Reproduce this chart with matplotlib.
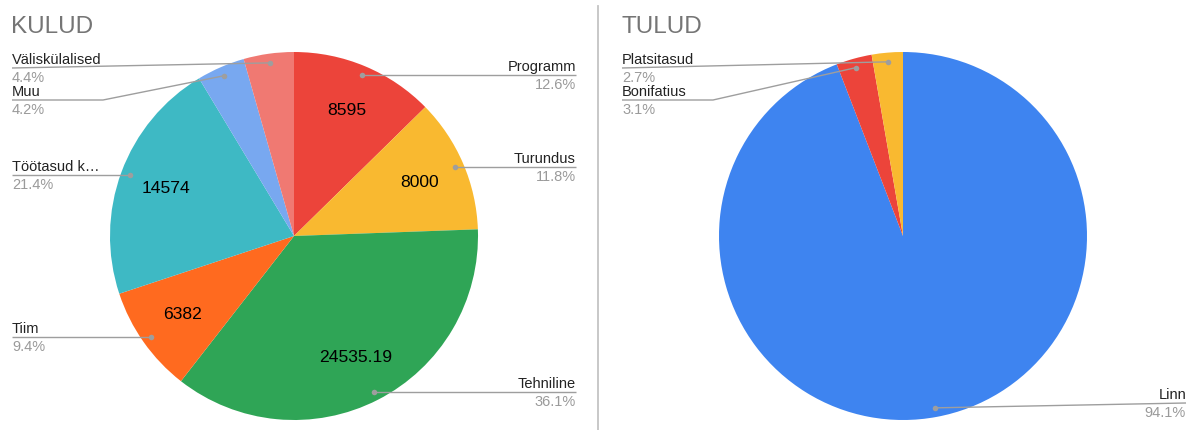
import numpy as np
import matplotlib.pyplot as plt

plt.rcParams['font.family'] = ['Liberation Sans', 'DejaVu Sans']

# Data
kulud_labels = ["Programm", "Turundus", "Tehniline", "Tiim", "Töötasud k…", "Muu", "Väliskülalised"]
kulud_values = [8595, 8000, 24535.19, 6382, 14574, 2865, 3000]
kulud_colors = ["#EC443A", "#F9B930", "#2FA556", "#FF6A1F", "#3EB9C4", "#78A8F0", "#F07972"]

tulud_labels = ["Linn", "Bonifatius", "Platsitasud"]
tulud_values = [94.14, 3.13, 2.73]
tulud_colors = ["#3E84F0", "#EC443A", "#F9B930"]

# Layout (pixels from top-left)
W, H = 1192, 430
R = 184
kulud_center = (294, 236)
tulud_center = (903, 236)

kulud_side = ["R", "R", "R", "L", "L", "L", "L"]
kulud_label_y = [None, None, None, None, None, 100, 68]
kulud_bend_x = [None, None, None, None, None, 103, None]

tulud_side = ["R", "L", "L"]
tulud_label_y = [403, 100, 68]
tulud_bend_x = [None, 713, None]

NAME_C = "#222222"
PCT_C = "#9a9a9a"
LINE_C = "#9e9e9e"


def fmt_val(v):
    s = f"{v:.2f}".rstrip("0").rstrip(".")
    return s


def draw_pie(ax, values, labels, colors, center, side, label_y, bend_x,
             left_x, right_x, show_values):
    cx, cy = center[0], H - center[1]
    ax.pie(values, colors=colors, startangle=90, counterclock=False,
           center=(cx, cy), radius=R, wedgeprops=dict(linewidth=0))
    total = float(sum(values))
    cum = np.cumsum(values) - np.array(values) / 2.0
    for i, v in enumerate(values):
        pct = 100.0 * v / total
        theta = np.deg2rad(90 - 360.0 * cum[i] / total)
        # value label inside slice
        if show_values and pct > 5:
            r = 0.74 * R
            ax.text(cx + r * np.cos(theta), cy + r * np.sin(theta), fmt_val(v),
                    ha="center", va="center", fontsize=12.6, color="black")
        # leader dot
        dx = cx + 0.95 * R * np.cos(theta)
        dy = cy + 0.95 * R * np.sin(theta)
        ly = dy if label_y[i] is None else H - label_y[i]
        ex = right_x if side[i] == "R" else left_x
        xs, ys = [dx], [dy]
        if bend_x[i] is not None:
            xs.append(bend_x[i])
            ys.append(ly)
        xs.append(ex)
        ys.append(ly)
        ax.plot(xs, ys, color=LINE_C, lw=1.0, solid_capstyle="butt")
        ax.plot([dx], [dy], "o", color=LINE_C, markersize=4, markeredgewidth=0)
        ha = "right" if side[i] == "R" else "left"
        ax.text(ex, ly + 4, labels[i], ha=ha, va="baseline", fontsize=10.5, color=NAME_C)
        ax.text(ex, ly - 14, f"{pct:.1f}%", ha=ha, va="baseline", fontsize=10.5, color=PCT_C)


fig = plt.figure(figsize=(W / 100, H / 100), dpi=100)
ax = fig.add_axes([0, 0, 1, 1])
ax.set_xlim(0, W)
ax.set_ylim(0, H)
ax.axis("off")

draw_pie(ax, kulud_values, kulud_labels, kulud_colors, kulud_center,
         kulud_side, kulud_label_y, kulud_bend_x, 12, 576, True)
draw_pie(ax, tulud_values, tulud_labels, tulud_colors, tulud_center,
         tulud_side, tulud_label_y, tulud_bend_x, 622, 1186, False)
ax.set_xlim(0, W)
ax.set_ylim(0, H)
ax.set_aspect("auto")

# titles
ax.text(11, H - 33, "KULUD", ha="left", va="baseline", fontsize=17.5, color="#757575")
ax.text(621, H - 33, "TULUD", ha="left", va="baseline", fontsize=17.5, color="#757575")

# separator
ax.plot([598, 598], [H - 6, 0], color="#c4c4c4", lw=1.3)

fig.savefig("out.png", dpi=100)
